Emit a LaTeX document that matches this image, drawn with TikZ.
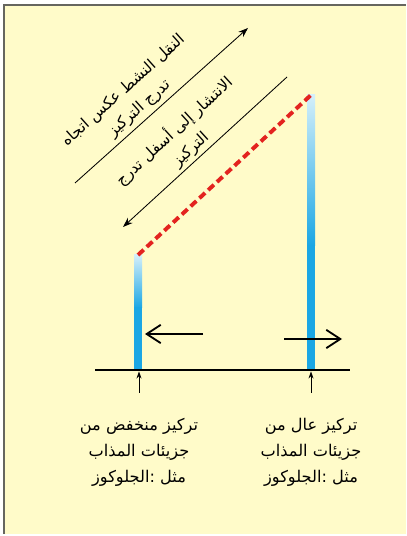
\documentclass[tikz,border=0pt]{standalone}
\usepackage{fontspec}
\usetikzlibrary{arrows.meta,positioning}
\newfontfamily\arabicfont[Script=Arabic]{DejaVu Sans}
\TeXXeTstate=1
\definecolor{paper}{HTML}{FFFBC9}
\definecolor{frameline}{HTML}{66665F}
\definecolor{solute}{HTML}{1AA6E4}
\definecolor{solutelight}{HTML}{D4EFFA}
\definecolor{gradred}{HTML}{E3231F}
\tikzset{
  membrane/.style={line width=1pt, black},
  gradline/.style={line width=2.8pt, gradred, dash pattern=on 5.5pt off 3pt},
  slopearrow/.style={line width=0.6pt, -{Stealth[length=7pt, width=5pt]}},
  flowarrow/.style={line width=1.3pt, -{Straight Barb[length=10pt, width=13pt]}},
  markarrow/.style={line width=0.6pt, -{Stealth[length=5pt, width=3.5pt]}},
  slopetext/.style={font=\arabicfont\fontsize{11}{17}\selectfont, align=center, inner sep=1pt},
  basetext/.style={font=\arabicfont\fontsize{11.5}{18.5}\selectfont, align=center, inner sep=0pt},
}
\begin{document}
\begin{tikzpicture}[x=0.025cm, y=0.025cm]
  \useasboundingbox (0,0) rectangle (406,536);
  \fill[paper] (4,2) rectangle (406,531);
  \draw[frameline, line width=1.2pt] (4,2) -- (4,531) -- (406,531);

  % points of the two sides
  \coordinate (memleft) at (95,166);
  \coordinate (memright) at (350,166);
  \coordinate (lowbase) at (138,166);
  \coordinate (lowtop) at (138,281);
  \coordinate (highbase) at (311,166);
  \coordinate (hightop) at (311,441);

  % concentration bars
  \shade[top color=solutelight, bottom color=solute] (134,228) rectangle (142,281);
  \fill[solute] (134,166) rectangle (142,229);
  \shade[top color=solutelight, bottom color=solute] (307,290) rectangle (315,441);
  \fill[solute] (307,166) rectangle (315,291);

  \draw[membrane] (memleft) -- (memright);
  \draw[gradline] (lowtop) -- (hightop);

  % diagonal arrows
  \coordinate (uptail) at (75,353);
  \coordinate (uphead) at (248,508);
  \coordinate (downhead) at (123,309);
  \coordinate (downtail) at (287,459);
  \draw[slopearrow] (uptail) -- node[slopetext, sloped, above=2pt, pos=0.42] (activetxt)
    {\beginR النقل النشط عكس اتجاه\endR\\ \beginR تدرج التركيز\endR} (uphead);
  \draw[slopearrow, {Stealth[length=7pt, width=5pt]}-] (downhead) -- node[slopetext, sloped, above=1pt, pos=0.46] (difftxt)
    {\beginR الانتشار إلى أسفل تدرج\endR\\ \beginR التركيز\endR} (downtail);

  % flow across the membrane
  \coordinate (inflowtail) at (203,202);
  \coordinate (inflowhead) at (145,202);
  \coordinate (outflowtail) at (284,197);
  \coordinate (outflowhead) at (342,197);
  \draw[flowarrow] (inflowtail) -- (inflowhead);
  \draw[flowarrow] (outflowtail) -- (outflowhead);

  % labels under the membrane
  \coordinate (lowpoint) at (139,143);
  \coordinate (highpoint) at (311,143);
  \draw[markarrow] (lowpoint) -- ([yshift=-1pt]lowbase -| lowpoint);
  \draw[markarrow] (highpoint) -- ([yshift=-1pt]highbase);
  \node[basetext, below=18pt of lowpoint] (lowtxt)
    {\beginR تركيز منخفض من\endR\\ \beginR جزيئات المذاب\endR\\ \beginR مثل :الجلوكوز\endR};
  \node[basetext, below=18pt of highpoint] (hightxt)
    {\beginR تركيز عال من\endR\\ \beginR جزيئات المذاب\endR\\ \beginR مثل :الجلوكوز\endR};
\end{tikzpicture}
\end{document}
